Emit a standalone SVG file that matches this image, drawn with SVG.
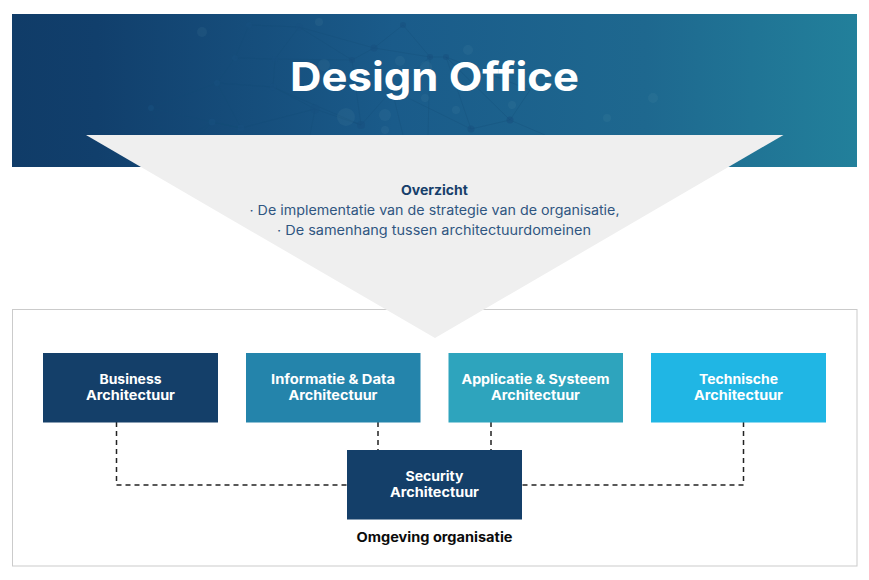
<svg xmlns="http://www.w3.org/2000/svg" width="869" height="580" viewBox="0 0 869 580">
<defs>
<linearGradient id="bg" x1="0" y1="0" x2="1" y2="0">
<stop offset="0" stop-color="#103c68"/><stop offset="0.1" stop-color="#113f6c"/><stop offset="0.45" stop-color="#1a5b8a"/><stop offset="0.75" stop-color="#1e688f"/><stop offset="1" stop-color="#22809b"/>
</linearGradient>
<style>
text{font-family:"Inter","Open Sans","Liberation Sans",sans-serif;text-anchor:middle}
.lbl{font-size:13px;font-weight:700;fill:#fff}
.ov{font-size:13px;fill:#2f5681}
.dash{fill:none;stroke:#222;stroke-width:1.5;stroke-dasharray:5 4}
.net{fill:none;stroke:#134a76;stroke-width:.6;opacity:.45}
.nd{fill:#17507f;opacity:.55}
.gl{fill:#7fb0c4;opacity:.08}
.dk{fill:#143f69}
</style>
</defs>
<g id="banner">
<rect x="12" y="14" width="845" height="153" fill="url(#bg)"/>
<path class="net" d="M151 108L212 122L241 128L217 83L151 108M217 83L273 87L315 109L241 128M273 87L275 59L235 58L217 83M235 58L249 25L299 27L275 59M299 27L352 60L275 59M352 60L374 48L403 25L430 57L374 48M299 27L374 48M315 109L361 125L352 60M273 87L361 125M361 125L392 90L430 57L446 57L471 129L510 120L446 57M392 90L403 135M430 57L428 135M471 129L392 90M510 120L545 135M510 120L530 90L446 57M241 128L212 122L200 135M315 109L310 135M212 122L190 135M151 108L165 135"/>
<g>
<circle class="nd" cx="315" cy="109" r="4.500"/><circle class="nd" cx="361" cy="125" r="4"/><circle class="nd" cx="241" cy="128" r="3.500"/><circle class="nd" cx="212" cy="122" r="3.500"/><circle class="nd" cx="151" cy="108" r="3"/><circle class="nd" cx="273" cy="87" r="3.500"/><circle class="nd" cx="217" cy="83" r="3"/><circle class="nd" cx="299" cy="27" r="3.500"/><circle class="nd" cx="249" cy="25" r="3"/><circle class="nd" cx="403" cy="25" r="3"/><circle class="nd" cx="374" cy="48" r="3.500"/><circle class="nd" cx="352" cy="60" r="3"/><circle class="nd" cx="275" cy="59" r="3"/><circle class="nd" cx="235" cy="58" r="3"/><circle class="nd" cx="510" cy="120" r="3.500"/><circle class="nd" cx="471" cy="129" r="3.500"/><circle class="nd" cx="430" cy="57" r="3"/><circle class="nd" cx="446" cy="57" r="3"/>
<circle class="gl" cx="468" cy="50" r="5"/><circle class="gl" cx="400" cy="61" r="5"/><circle class="gl" cx="324" cy="65" r="6"/><circle class="gl" cx="426" cy="67" r="6"/><circle class="gl" cx="346" cy="117" r="9"/><circle class="gl" cx="385" cy="115" r="6"/><circle class="gl" cx="456" cy="110" r="4"/><circle class="gl" cx="512" cy="105" r="4"/><circle class="gl" cx="425" cy="98" r="4"/><circle class="gl" cx="607" cy="118" r="4"/><circle class="gl" cx="653" cy="98" r="5"/><circle class="gl" cx="319" cy="22" r="4"/><circle class="gl" cx="202" cy="32" r="5"/><circle class="gl" cx="385" cy="130" r="4"/>
</g>
</g>
<g id="frame"><rect x="12.500" y="309.500" width="844.500" height="256.500" fill="#fff" stroke="#cbcbcb" stroke-width="1"/></g>
<g id="overzicht">
<polygon points="86,135 783.500,135 435,338" fill="#efefef"/>
<text x="434.500" y="195" font-size="13" font-weight="700" fill="#173f6b" textLength="67" lengthAdjust="spacingAndGlyphs">Overzicht</text>
<text class="ov" x="434.500" y="215" textLength="370" lengthAdjust="spacingAndGlyphs">· De implementatie van de strategie van de organisatie,</text>
<text class="ov" x="434" y="235" textLength="314" lengthAdjust="spacingAndGlyphs">· De samenhang tussen architectuurdomeinen</text>
</g>
<g id="title"><text x="434.500" y="91" font-size="40" font-weight="700" fill="#fff" textLength="289" lengthAdjust="spacingAndGlyphs">Design Office</text></g>
<g id="connectors">
<path class="dash" d="M116.500 422V485H347"/>
<path class="dash" d="M378 422V450"/>
<path class="dash" d="M491 422V450"/>
<path class="dash" d="M743.500 422V485H522"/>
</g>
<g id="business"><rect class="dk" x="43" y="353" width="175" height="69.500"/>
<text class="lbl" x="130.500" y="384" textLength="62" lengthAdjust="spacingAndGlyphs">Business</text><text class="lbl" x="130.500" y="400" textLength="89" lengthAdjust="spacingAndGlyphs">Architectuur</text></g>
<g id="informatie"><rect x="246" y="353" width="174.500" height="69.500" fill="#2484ab"/>
<text class="lbl" x="333" y="384" textLength="124" lengthAdjust="spacingAndGlyphs">Informatie &amp; Data</text><text class="lbl" x="333" y="400" textLength="89" lengthAdjust="spacingAndGlyphs">Architectuur</text></g>
<g id="applicatie"><rect x="448.500" y="353" width="174.500" height="69.500" fill="#2ea4bd"/>
<text class="lbl" x="535.500" y="384" textLength="148" lengthAdjust="spacingAndGlyphs">Applicatie &amp; Systeem</text><text class="lbl" x="535.500" y="400" textLength="89" lengthAdjust="spacingAndGlyphs">Architectuur</text></g>
<g id="technische"><rect x="651" y="353" width="175" height="69.500" fill="#20b6e4"/>
<text class="lbl" x="738.500" y="384" textLength="79" lengthAdjust="spacingAndGlyphs">Technische</text><text class="lbl" x="738.500" y="400" textLength="89" lengthAdjust="spacingAndGlyphs">Architectuur</text></g>
<g id="security"><rect class="dk" x="347" y="450" width="175" height="69.500"/>
<text class="lbl" x="434.500" y="481" textLength="58" lengthAdjust="spacingAndGlyphs">Security</text><text class="lbl" x="434.500" y="497" textLength="89" lengthAdjust="spacingAndGlyphs">Architectuur</text></g>
<g id="omgeving"><text x="434.500" y="542" font-size="13" font-weight="700" fill="#0b0b0b" textLength="156" lengthAdjust="spacingAndGlyphs">Omgeving organisatie</text></g>
</svg>
